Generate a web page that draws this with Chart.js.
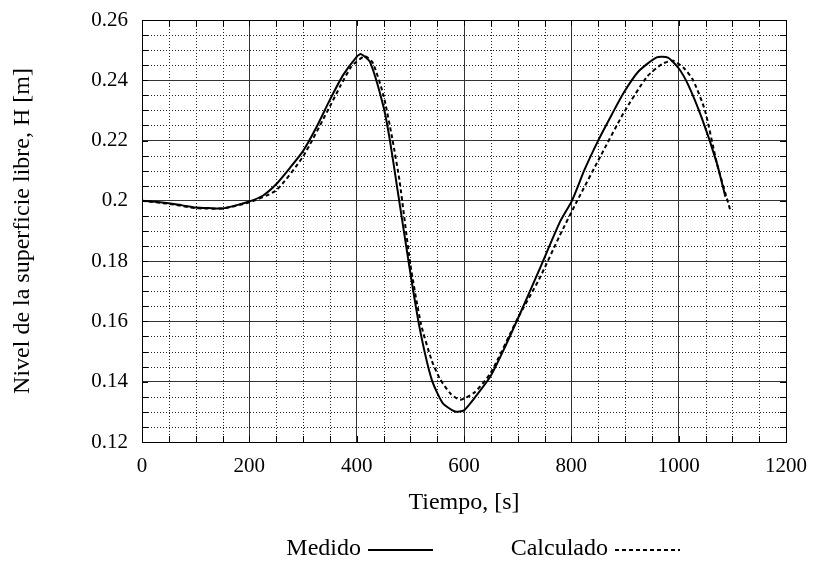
<!DOCTYPE html>
<html><head><meta charset="utf-8">
<script src="https://cdn.jsdelivr.net/npm/chart.js@4"></script>
<style>html,body{margin:0;padding:0;background:#fff;}#wrap{width:815px;height:565px;}</style>
</head><body><div id="wrap"><canvas id="c" width="815" height="565"></canvas></div>
<script>
const seriesNames = ['Medido', 'Calculado'];
const tMedido = [0, 25, 50, 75, 100, 125, 150, 175, 200, 225, 250, 275, 300, 325, 350, 375, 400, 408, 425, 450, 462, 475, 500, 518, 540, 560, 583, 600, 617, 649, 675, 705, 740, 779, 801, 825, 850, 875, 897, 925, 959, 980, 1000, 1018, 1043, 1071, 1087];
const hMedido = [0.2000, 0.1997, 0.1992, 0.1985, 0.1978, 0.1976, 0.1975, 0.1985, 0.1998, 0.2017, 0.2055, 0.2108, 0.2165, 0.2244, 0.2335, 0.2418, 0.2478, 0.2487, 0.2460, 0.2312, 0.2200, 0.2050, 0.1761, 0.1572, 0.1406, 0.1330, 0.1301, 0.1305, 0.1340, 0.1417, 0.1510, 0.1628, 0.1770, 0.1931, 0.2000, 0.2105, 0.2200, 0.2285, 0.2357, 0.2429, 0.2476, 0.2475, 0.2440, 0.2384, 0.2275, 0.2126, 0.2014];
const tCalculado = [0, 50, 100, 150, 200, 250, 300, 350, 369, 390, 415, 430, 450, 466, 480, 500, 520, 540, 555, 575, 593, 620, 650, 700, 740, 779, 810, 854, 897, 941, 970, 990, 1010, 1027, 1049, 1071, 1096];
const hCalculado = [0.2000, 0.1990, 0.1976, 0.1975, 0.1995, 0.2035, 0.2147, 0.2313, 0.2379, 0.2445, 0.2480, 0.2458, 0.2350, 0.2210, 0.2065, 0.1790, 0.1590, 0.1470, 0.1410, 0.1360, 0.1340, 0.1365, 0.1430, 0.1610, 0.1740, 0.1887, 0.1997, 0.2147, 0.2290, 0.2412, 0.2455, 0.2465, 0.2440, 0.2400, 0.2300, 0.2126, 0.1970];
const xTickLabels = ['0', '200', '400', '600', '800', '1000', '1200'];
const yTickLabels = ['0.12', '0.14', '0.16', '0.18', '0.2', '0.22', '0.24', '0.26'];
const xTitle = 'Tiempo, [s]';
const yTitle = 'Nivel de la superficie libre, H [m]';

const FONT = '"Liberation Serif", "Times New Roman", serif';

const minorGrid = {
  id: 'minorGrid',
  beforeDatasetsDraw(chart) {
    const {ctx, chartArea: a, scales: {x, y}} = chart;
    ctx.save();
    ctx.lineWidth = 1;
    ctx.strokeStyle = '#222';
    ctx.setLineDash([1, 2]);
    const xs = [], ys = [];
    for (let v = x.min; v <= x.max + 1e-9; v += (x.max - x.min) / 24) xs.push(v);
    for (let v = y.min; v <= y.max + 1e-9; v += (y.max - y.min) / 28) ys.push(v);
    xs.forEach((v, i) => {
      if (i % 4 === 0) return;
      const px = Math.round(x.getPixelForValue(v)) + 0.5;
      ctx.beginPath(); ctx.moveTo(px, a.top); ctx.lineTo(px, a.bottom); ctx.stroke();
    });
    ys.forEach((v, i) => {
      if (i % 4 === 0) return;
      const py = Math.round(y.getPixelForValue(v)) + 0.5;
      ctx.beginPath(); ctx.moveTo(a.left, py); ctx.lineTo(a.right, py); ctx.stroke();
    });
    ctx.setLineDash([]);
    ctx.strokeStyle = '#000';
    const L = 6;
    xs.forEach(v => {
      const px = Math.round(x.getPixelForValue(v)) + 0.5;
      ctx.beginPath(); ctx.moveTo(px, a.bottom); ctx.lineTo(px, a.bottom - L);
      ctx.moveTo(px, a.top); ctx.lineTo(px, a.top + L); ctx.stroke();
    });
    ys.forEach(v => {
      const py = Math.round(y.getPixelForValue(v)) + 0.5;
      ctx.beginPath(); ctx.moveTo(a.left, py); ctx.lineTo(a.left + L, py);
      ctx.moveTo(a.right, py); ctx.lineTo(a.right - L, py); ctx.stroke();
    });
    ctx.strokeRect(Math.round(a.left) + 0.5, Math.round(a.top) + 0.5, Math.round(a.right - a.left), Math.round(a.bottom - a.top));
    ctx.restore();
  }
};

const customLegend = {
  id: 'customLegend',
  afterDraw(chart) {
    const ctx = chart.ctx;
    ctx.save();
    ctx.font = '24px ' + FONT;
    ctx.fillStyle = '#000';
    ctx.textBaseline = 'middle';
    ctx.textAlign = 'right';
    const yMid = 549;
    const textEnds = [361, 608];
    chart.data.datasets.forEach((ds, i) => {
      const xe = textEnds[i];
      ctx.fillText(ds.label, xe, yMid);
      ctx.strokeStyle = '#000';
      ctx.lineWidth = 2;
      ctx.setLineDash(ds.borderDash || []);
      ctx.beginPath();
      ctx.moveTo(xe + 7, yMid + 1);
      ctx.lineTo(xe + 72, yMid + 1);
      ctx.stroke();
    });
    ctx.restore();
  }
};

new Chart(document.getElementById('c'), {
  type: 'line',
  data: {
    datasets: [
      {
        label: seriesNames[0],
        data: tMedido.map((t, i) => ({x: t, y: hMedido[i]})),
        borderColor: '#000', borderWidth: 2, pointRadius: 0, tension: 0.2, fill: false
      },
      {
        label: seriesNames[1],
        data: tCalculado.map((t, i) => ({x: t, y: hCalculado[i]})),
        borderColor: '#000', borderWidth: 2, borderDash: [4, 3], pointRadius: 0, tension: 0.2, fill: false
      }
    ]
  },
  options: {
    responsive: false,
    animation: false,
    devicePixelRatio: 1,
    layout: {padding: {left: 0, top: 20, right: 29, bottom: 0}},
    plugins: {legend: {display: false}, tooltip: {enabled: false}},
    scales: {
      x: {
        type: 'linear', min: 0, max: 1200,
        afterBuildTicks: s => { s.ticks = xTickLabels.map(l => ({value: parseFloat(l)})); },
        afterFit: s => { s.height = 123; s.paddingLeft = 0; s.paddingRight = 0; },
        ticks: {
          callback: v => xTickLabels.find(l => Math.abs(parseFloat(l) - v) < 1e-9) || '',
          color: '#000', font: {family: FONT, size: 21}, padding: 12, maxRotation: 0, autoSkip: false
        },
        grid: {color: '#333', lineWidth: 1, drawTicks: false},
        border: {color: '#000'},
        title: {display: true, text: xTitle, color: '#000', font: {family: FONT, size: 24}, padding: {top: 0, bottom: 48}}
      },
      y: {
        type: 'linear', min: 0.12, max: 0.26,
        afterBuildTicks: s => { s.ticks = yTickLabels.map(l => ({value: parseFloat(l)})); },
        afterFit: s => { s.width = 142; s.paddingTop = 0; s.paddingBottom = 0; },
        ticks: {
          callback: v => yTickLabels.find(l => Math.abs(parseFloat(l) - v) < 1e-9) || '',
          color: '#000', font: {family: FONT, size: 21}, padding: 14
        },
        grid: {color: '#333', lineWidth: 1, drawTicks: false},
        border: {color: '#000'},
        title: {display: true, text: yTitle, color: '#000', font: {family: FONT, size: 24}, padding: {top: 8, bottom: 0}}
      }
    }
  },
  plugins: [minorGrid, customLegend]
});
</script>
</body></html>
